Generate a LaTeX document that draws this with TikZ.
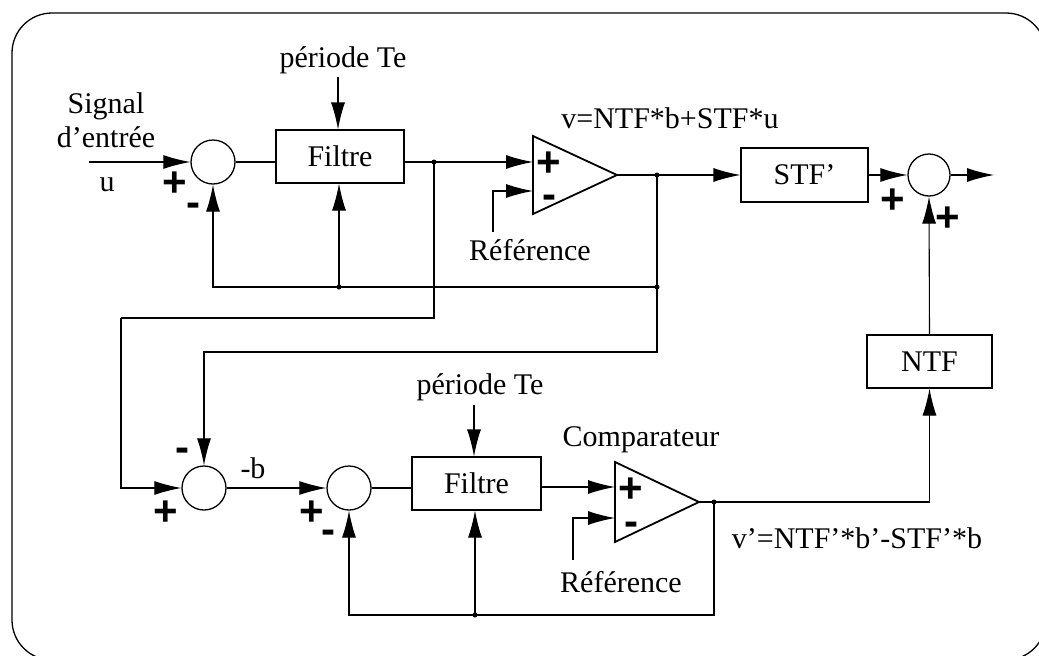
\documentclass[tikz,border=0pt]{standalone}
\usepackage{fontspec}
\setmainfont{Liberation Serif}
\newfontfamily\sgnfont{Liberation Sans}
\usetikzlibrary{arrows.meta}
\begin{document}
\begin{tikzpicture}[x=1pt,y=-1pt,
  txt/.style={font=\fontsize{30}{34}\selectfont, inner sep=0pt, align=center},
  sgn/.style={font=\sgnfont\bfseries\fontsize{42}{42}\selectfont, inner sep=0pt, text height=26pt, text depth=0pt},
  sumc/.style={draw, circle, line width=1.3pt, minimum size=44pt, inner sep=0pt},
  blk/.style={draw, line width=1.1pt, inner sep=0pt, font=\fontsize{30}{34}\selectfont},
  wire/.style={line width=1.1pt},
  arr/.style={wire, -{Latex[length=27pt,width=14pt]}},
  dotc/.style={circle, fill, inner sep=0pt, minimum size=5pt},
  tri/.style={line width=1.8pt, line join=miter}
]
\useasboundingbox (0,0) rectangle (1039,656);
\draw[line width=1.3pt, rounded corners=40pt] (12,13) rectangle (1046,660);

% ---------- top loop ----------
\node[txt] (pt1) at (343,60) {période Te};
\node[txt] (sig) at (106,120) {Signal\\d'entrée};
\node[txt] (u) at (107,185) {u};
\node[sumc] (s1) at (213,162) {};
\node[sgn] (s1p) at (175,183) {+};
\node[sgn] (s1m) at (193,203) {-};
\node[blk, minimum width=128pt, minimum height=53pt] (f1) at (340,156.5) {Filtre};
\coordinate (in1) at (89,162);
\coordinate (pt1a) at (338,77);
\coordinate (j1) at (434,162);

% comparator 1
\coordinate (c1t) at (533,136);
\coordinate (c1b) at (533,214);
\coordinate (c1o) at (617,175);
\coordinate (c1p) at (533,162);
\coordinate (c1m) at (533,191);
\draw[tri] (c1t) -- (c1o) -- (c1b) -- cycle;
\node[sgn] (c1ps) at (549,163) {+};
\node[sgn] (c1ms) at (549,195) {-};
\coordinate (r1) at (493,232);
\node[txt] (ref1) at (530,250) {Référence};
\node[txt] (veq) at (670,118) {v=NTF*b+STF*u};

\coordinate (j2) at (657,175);
\coordinate (j3) at (657,287);
\coordinate (j4) at (339,287);
\node[blk, minimum width=127pt, minimum height=54pt] (stf) at (804.5,175) {STF'};
\node[sumc, minimum size=42pt] (s2) at (929,175) {};
\node[sgn] (s2p1) at (893,200) {+};
\node[sgn] (s2p2) at (948,218) {+};
\coordinate (out) at (994,175);
\node[blk, minimum width=125pt, minimum height=53pt] (ntf) at (929.5,361.5) {NTF};

% ---------- bottom loop ----------
\node[sgn] (s3m) at (182,448) {-};
\node[sumc] (s3) at (204,488) {};
\node[sgn] (s3p) at (166,512) {+};
\node[txt] (mb) at (253,468) {-b};
\node[sumc] (s4) at (349,488) {};
\node[sgn] (s4p) at (312,512) {+};
\node[sgn] (s4m) at (328,530) {-};
\node[blk, minimum width=129pt, minimum height=53pt] (f2) at (476.5,483.5) {Filtre};
\node[txt] (pt2) at (480,387) {période Te};
\coordinate (pt2a) at (474,405);
\node[txt] (cmp) at (641,440) {Comparateur};

\coordinate (c2t) at (615,462);
\coordinate (c2b) at (615,542);
\coordinate (c2o) at (699,502);
\coordinate (c2p) at (615,487);
\coordinate (c2m) at (615,518);
\draw[tri] (c2t) -- (c2o) -- (c2b) -- cycle;
\node[sgn] (c2ps) at (631,489) {+};
\node[sgn] (c2ms) at (631,522) {-};
\coordinate (r2) at (573,560);
\node[txt] (ref2) at (621,582) {Référence};
\node[txt] (veq2) at (857,538) {v'=NTF'*b'-STF'*b};
\coordinate (j5) at (714,502);
\coordinate (j6) at (475,615);
\coordinate (lft) at (121,318);

% ---------- connectors ----------
\draw[arr] (pt1a) -- (pt1a |- f1.north);
\draw[arr] (in1) -- (s1.west);
\draw[wire] (s1.east) -- (s1 -| f1.west);
\draw[wire] (s1 -| f1.east) -- (j1);
\draw[arr] (j1) -- (c1p);
\draw[arr] (r1) |- (c1m);
\draw[wire] (c1o) -- (j2);
\draw[arr] (j2) -- (stf.west);
\draw[arr] (stf.east) -- (s2.west);
\draw[arr] (s2.east) -- (out);
\draw[arr] (ntf.north) -- (s2.south);
\draw[wire] (j2) -- (j3);
\draw[wire] (j3) -- (j4);
\draw[arr] (j4) -| (s1.south);
\draw[arr] (j4) -- (j4 |- f1.south);
\draw[wire] (j1) |- (lft);
\draw[arr] (lft) |- (s3.west);
\draw[arr] (j3) |- (s3.north |- 0,352) -- (s3.north);
\draw[arr] (s3.east) -- (s4.west);
\draw[wire] (s4.east) -- (s4 -| f2.west);
\draw[arr] (pt2a) -- (pt2a |- f2.north);
\draw[arr] (f2.east |- c2p) -- (c2p);
\draw[arr] (r2) |- (c2m);
\draw[wire] (c2o) -- (j5);
\draw[arr] (j5) -| (ntf.south);
\draw[wire] (j5) |- (j6);
\draw[arr] (j6) -| (s4.south);
\draw[arr] (j6) -- (j6 |- f2.south);

\foreach \d in {j1,j2,j3,j4,j5,j6} \node[dotc] at (\d) {};
\end{tikzpicture}
\end{document}
